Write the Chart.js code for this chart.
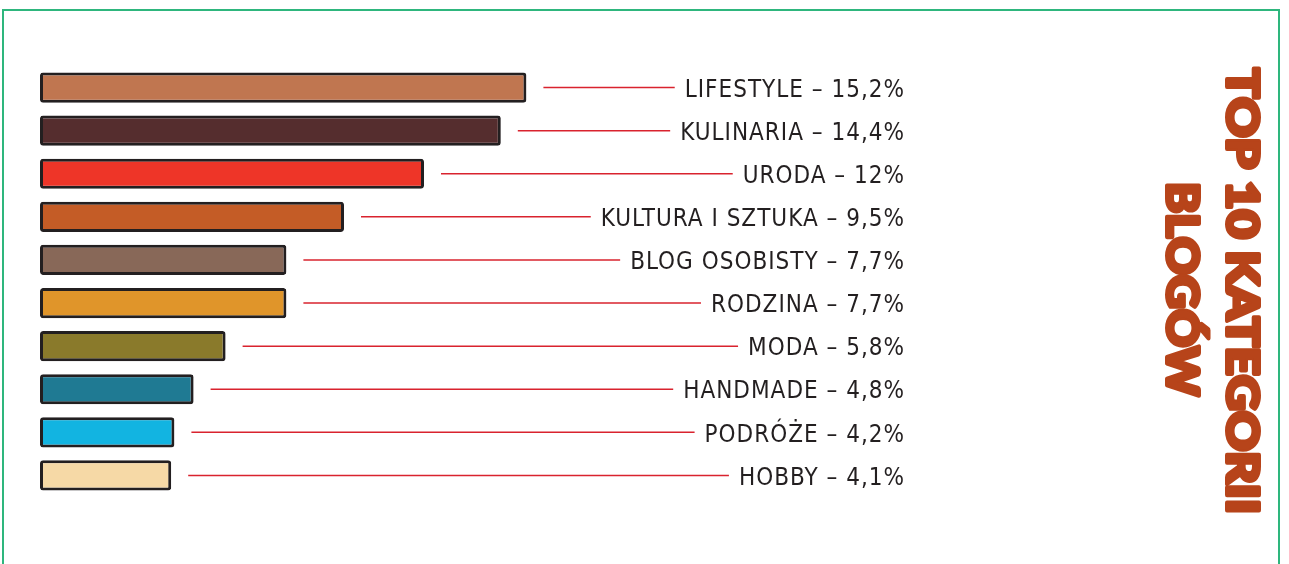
<!DOCTYPE html>
<html lang="pl">
<head>
<meta charset="utf-8">
<title>Top 10 kategorii blogów</title>
<script src="https://cdn.jsdelivr.net/npm/chart.js@4.4.1/dist/chart.umd.min.js"></script>
<style>
  html, body { margin: 0; padding: 0; background: #fff; overflow: hidden; }
  #ramka {
    position: absolute; left: 2px; top: 9px; width: 1274px; height: 600px;
    border: 2px solid #2eb67d; border-bottom: none;
  }
  #wykres { position: absolute; left: 0; top: 0; }
</style>
</head>
<body>
<div id="ramka"></div>
<canvas id="wykres" width="1289" height="564"></canvas>
<script>
const kategorie = ['LIFESTYLE', 'KULINARIA', 'URODA', 'KULTURA I SZTUKA', 'BLOG OSOBISTY',
  'RODZINA', 'MODA', 'HANDMADE', 'PODRÓŻE', 'HOBBY'];
const udzialy = [15.2, 14.4, 12, 9.5, 7.7, 7.7, 5.8, 4.8, 4.2, 4.1];
const kolory = ['#c07650', '#552d2e', '#ee3528', '#c45c26', '#886858',
  '#e0952a', '#8a7a2b', '#1f7a93', '#12b4e1', '#f6d9a6'];
const tytul = ['TOP 10 KATEGORII', 'BLOGÓW'];

function procent(v) {
  return String(v).replace('.', ',') + '%';
}

// etykiety po prawej z czerwona linia prowadzaca od konca slupka
const etykiety = {
  id: 'etykiety',
  afterDatasetsDraw(chart) {
    const ctx = chart.ctx;
    const meta = chart.getDatasetMeta(0);
    ctx.save();
    ctx.font = '24px "DejaVu Sans Condensed", "DejaVu Sans", sans-serif';
    ctx.letterSpacing = '1px';
    ctx.textAlign = 'right';
    ctx.textBaseline = 'middle';
    meta.data.forEach((bar, i) => {
      const tekst = kategorie[i] + ' – ' + procent(udzialy[i]);
      const prawa = 905;
      const w = ctx.measureText(tekst).width;
      ctx.strokeStyle = '#d9232e';
      ctx.lineWidth = 1.5;
      ctx.beginPath();
      ctx.moveTo(bar.x + 17, bar.y);
      ctx.lineTo(prawa - w - 10, bar.y);
      ctx.stroke();
      ctx.fillStyle = '#231f20';
      ctx.fillText(tekst, prawa, bar.y + 3);
    });
    ctx.restore();
  }
};

// pionowy tytul po prawej stronie
const naglowek = {
  id: 'naglowek',
  afterDraw(chart) {
    const ctx = chart.ctx;
    const linie = [
      { x: 1241, y: 291, dl: 446 },
      { x: 1181, y: 289, dl: 214 }
    ];
    ctx.save();
    ctx.font = '900 44px Lato, "DejaVu Sans", sans-serif';
    ctx.fillStyle = '#b7441a';
    ctx.strokeStyle = '#b7441a';
    ctx.lineWidth = 4;
    ctx.lineJoin = 'round';
    ctx.textAlign = 'center';
    ctx.textBaseline = 'middle';
    linie.forEach((l, i) => {
      const w = ctx.measureText(tytul[i]).width;
      ctx.save();
      ctx.translate(l.x, l.y);
      ctx.rotate(Math.PI / 2);
      ctx.scale(l.dl / w, 1);
      ctx.strokeText(tytul[i], 0, 0);
      ctx.fillText(tytul[i], 0, 0);
      ctx.restore();
    });
    ctx.restore();
  }
};

new Chart(document.getElementById('wykres'), {
  type: 'bar',
  data: {
    labels: kategorie,
    datasets: [{
      data: udzialy,
      backgroundColor: kolory,
      borderColor: '#231f20',
      borderWidth: 3,
      borderRadius: 3,
      borderSkipped: false,
      barPercentage: 0.7,
      categoryPercentage: 1
    }]
  },
  options: {
    indexAxis: 'y',
    responsive: false,
    devicePixelRatio: 1,
    animation: false,
    layout: { padding: { left: 40, top: 66, bottom: 67, right: 609 } },
    scales: {
      x: { display: false, min: 0, max: 20 },
      y: { display: false }
    },
    plugins: {
      legend: { display: false },
      tooltip: { enabled: false }
    }
  },
  plugins: [etykiety, naglowek]
});
</script>
</body>
</html>
